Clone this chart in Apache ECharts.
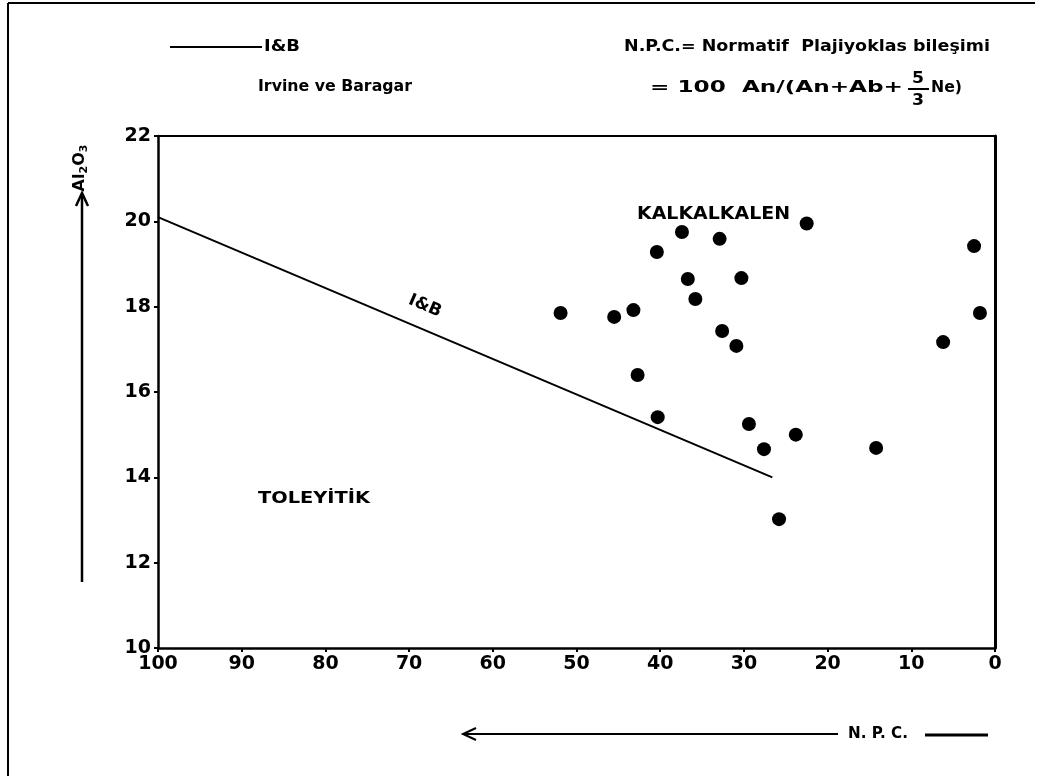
<!DOCTYPE html>
<html>
<head>
<meta charset="utf-8">
<script src="https://cdn.jsdelivr.net/npm/echarts@6/dist/echarts.min.js"></script>
<style>
html,body{margin:0;padding:0;background:#fff;}
#chart{width:1050px;height:776px;}
</style>
</head>
<body>
<div id="chart"></div>
<script>
// N.P.C. (x) and Al2O3 (y) values of the samples
const npcValues = [22.5, 37.4, 32.9, 40.4, 36.7, 30.3, 35.8, 51.9, 45.5, 43.2, 32.6, 30.9, 42.7, 40.3, 29.4, 23.8, 27.6, 2.5, 1.8, 6.2, 14.2, 25.8];
const al2o3Values = [19.95, 19.75, 19.59, 19.28, 18.65, 18.67, 18.18, 17.85, 17.76, 17.92, 17.43, 17.08, 16.4, 15.41, 15.25, 15.0, 14.66, 19.42, 17.85, 17.17, 14.69, 13.02];
// Irvine & Baragar dividing line
const ibLineX = [100, 26.6];
const ibLineY = [20.1, 14.0];
const xTicks = [100, 90, 80, 70, 60, 50, 40, 30, 20, 10, 0];
const yTicks = [10, 12, 14, 16, 18, 20, 22];

const FONT = '"DejaVu Sans", "Liberation Sans", sans-serif';
const points = npcValues.map((x, i) => [x, al2o3Values[i]]);
const ibLine = ibLineX.map((x, i) => [x, ibLineY[i]]);

const measureCtx = document.createElement('canvas').getContext('2d');
// text placed at left x, vertical middle y, stretched to the given width
function fit(text, x, y, width, size, extra) {
  const font = 'bold ' + size + 'px ' + FONT;
  measureCtx.font = font;
  const w = measureCtx.measureText(text).width;
  return Object.assign({
    type: 'text', x: x, y: y, scaleX: width / w,
    style: {text: text, fill: '#000', font: font, align: 'left', verticalAlign: 'middle'}
  }, extra || {});
}

const chart = echarts.init(document.getElementById('chart'), null, {renderer: 'canvas'});
const axisLabel = (list) => ({color: '#000', fontSize: 19, fontWeight: 'bold', fontFamily: FONT, margin: 7,
  formatter: v => list.includes(v) ? String(v) : ''});

chart.setOption({
  backgroundColor: '#fff',
  animation: false,
  grid: {left: 158, right: 55, top: 136, bottom: 128},
  xAxis: [{
    type: 'value', inverse: true, min: 0, max: 100, interval: 10,
    axisLine: {show: true, onZero: false, lineStyle: {color: '#000', width: 2.5}},
    axisTick: {show: true, length: 4, lineStyle: {color: '#000', width: 2}},
    splitLine: {show: false},
    axisLabel: axisLabel(xTicks)
  }, {
    type: 'value', position: 'top', inverse: true, min: 0, max: 100,
    axisLine: {show: true, onZero: false, lineStyle: {color: '#000', width: 2}},
    axisTick: {show: false}, axisLabel: {show: false}, splitLine: {show: false}
  }],
  yAxis: [{
    type: 'value', min: 10, max: 22, interval: 2,
    axisLine: {show: true, onZero: false, lineStyle: {color: '#000', width: 2.5}},
    axisTick: {show: true, length: 4, lineStyle: {color: '#000', width: 2}},
    splitLine: {show: false},
    axisLabel: axisLabel(yTicks)
  }, {
    type: 'value', position: 'right', min: 10, max: 22,
    axisLine: {show: true, onZero: false, lineStyle: {color: '#000', width: 3}},
    axisTick: {show: false}, axisLabel: {show: false}, splitLine: {show: false}
  }],
  series: [
    {type: 'line', data: ibLine, symbol: 'none', lineStyle: {color: '#000', width: 2}, z: 2},
    {type: 'scatter', data: points, symbol: 'circle', symbolSize: 14, itemStyle: {color: '#000', opacity: 1}, z: 3}
  ],
  graphic: [
    {type: 'line', shape: {x1: 8, y1: 3, x2: 1035, y2: 3}, style: {stroke: '#000', lineWidth: 2}},
    {type: 'line', shape: {x1: 8, y1: 3, x2: 8, y2: 776}, style: {stroke: '#000', lineWidth: 2}},
    // legend
    {type: 'line', shape: {x1: 170, y1: 47, x2: 262, y2: 47}, style: {stroke: '#000', lineWidth: 2}},
    fit('I&B', 264, 47, 36, 16),
    fit('Irvine ve Baragar', 258, 87, 154, 16),
    // formula
    fit('N.P.C.= Normatif  Plajiyoklas bileşimi', 624, 47, 366, 16),
    fit('= 100  An/(An+Ab+', 650, 88, 253, 16),
    fit('5', 912, 79, 12, 16),
    {type: 'line', shape: {x1: 908, y1: 89, x2: 929, y2: 89}, style: {stroke: '#000', lineWidth: 2}},
    fit('3', 912, 101, 12, 16),
    fit('Ne)', 931, 88, 31, 16),
    // y axis title with arrow
    {type: 'line', shape: {x1: 82, y1: 582, x2: 82, y2: 196}, style: {stroke: '#000', lineWidth: 2.5}},
    {type: 'polyline', shape: {points: [[76, 206], [82, 193], [88, 206]]}, style: {stroke: '#000', lineWidth: 2.5, fill: null}},
    {type: 'text', x: 80, y: 168, rotation: Math.PI / 2,
      style: {text: 'Al{s|2}O{s|3}', fill: '#000', font: 'bold 16px ' + FONT, align: 'center', verticalAlign: 'middle',
        rich: {s: {fontSize: 11, fontWeight: 'bold', fontFamily: FONT, verticalAlign: 'bottom', padding: [8, 0, 0, 0]}}}},
    // x axis title with arrow
    {type: 'line', shape: {x1: 463, y1: 734, x2: 838, y2: 734}, style: {stroke: '#000', lineWidth: 2}},
    {type: 'polyline', shape: {points: [[476, 728], [463, 734], [476, 740]]}, style: {stroke: '#000', lineWidth: 2, fill: null}},
    fit('N. P. C.', 848, 734, 60, 15),
    {type: 'line', shape: {x1: 925, y1: 735, x2: 988, y2: 735}, style: {stroke: '#000', lineWidth: 3}},
    // field names
    fit('KALKALKALEN', 637, 215, 153, 17),
    fit('TOLEYİTİK', 258, 499, 112, 16),
    {type: 'text', x: 425, y: 306, rotation: -0.40,
      style: {text: 'I&B', fill: '#000', font: 'bold 17px ' + FONT, align: 'center', verticalAlign: 'middle'}}
  ]
});
</script>
</body>
</html>
